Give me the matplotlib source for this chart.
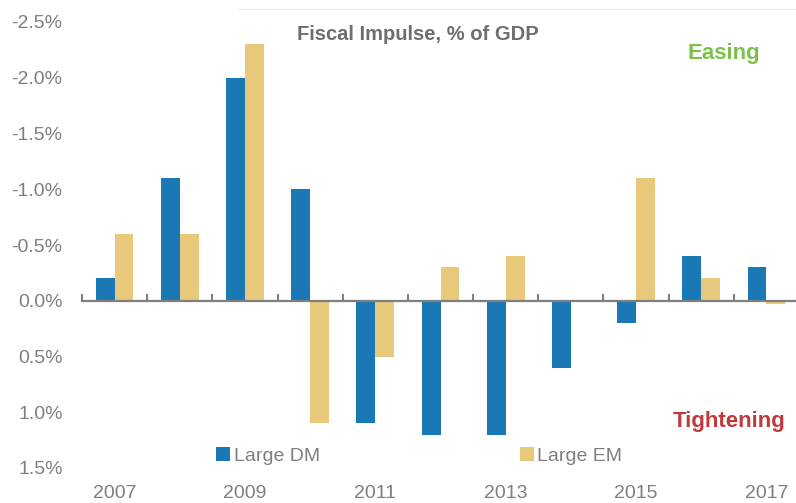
import matplotlib.pyplot as plt
import numpy as np
from matplotlib.lines import Line2D

plt.rcParams['font.family'] = ['Liberation Sans', 'DejaVu Sans']

years = [2007, 2008, 2009, 2010, 2011, 2012, 2013, 2014, 2015, 2016, 2017]
# negative = easing (drawn upward, axis is inverted)
large_dm = [-0.2, -1.1, -2.0, -1.0, 1.1, 1.2, 1.2, 0.6, 0.2, -0.4, -0.3]
large_em = [-0.6, -0.6, -2.3, 1.1, 0.5, -0.3, -0.4, 0.0, -1.1, -0.2, 0.03]
label_years = [2007, 2009, 2011, 2013, 2015, 2017]
yticks = [-2.5, -2.0, -1.5, -1.0, -0.5, 0.0, 0.5, 1.0, 1.5]
ytick_labels = ['-2.5%', '-2.0%', '-1.5%', '-1.0%', '-0.5%', '0.0%', '0.5%', '1.0%', '1.5%']

blue = '#1a79b5'
tan = '#e8c87b'
gray = '#7f7f7f'

fig = plt.figure(figsize=(7.96, 5.03), dpi=100)
W, H = 796, 503
ax = fig.add_axes([82 / W, (H - 468) / H, 717 / W, 446 / H])

x = np.arange(len(years))
w = 0.29
ax.bar(x - w / 2, large_dm, w, color=blue, label='Large DM')
ax.bar(x + w / 2, large_em, w, color=tan, label='Large EM')

ax.set_xlim(-0.5, len(years) - 0.5)
ax.set_ylim(1.5, -2.5)
ax.set_yticks(yticks)
ax.set_yticklabels(ytick_labels)
ax.tick_params(axis='y', length=0, pad=14, labelsize=14, labelcolor=gray)

for s in ['left', 'right', 'top']:
    ax.spines[s].set_visible(False)
ax.spines['bottom'].set_position(('data', 0))
ax.spines['bottom'].set_color(gray)
ax.spines['bottom'].set_linewidth(1.6)
ax.set_xticks([])
ax.set_xticks(x - 0.5, minor=True)
ax.tick_params(axis='x', which='minor', direction='in', length=5, width=1.5, color=gray)

# year labels sit below the plot area, ~26 px under the 1.5% line
for yr in label_years:
    ax.text(years.index(yr), 1.5 + 0.5 * 26 / 56, str(yr), ha='center', va='center',
            fontsize=14, color=gray, clip_on=False)

leg = fig.legend(loc='center left', bbox_to_anchor=(216 / W, (H - 456) / H),
                 ncol=2, frameon=False, fontsize=14, labelcolor=gray,
                 handlelength=0.7, handleheight=0.7, handletextpad=0.2,
                 columnspacing=10.3, borderpad=0, borderaxespad=0)

fig.text(418 / W, 1 - 35 / H, 'Fiscal Impulse, % of GDP', ha='center', va='center',
         fontsize=14.5, fontweight='bold', color='#6e6e6e')
fig.text(724 / W, 1 - 53 / H, 'Easing', ha='center', va='center',
         fontsize=16, fontweight='bold', color='#7cc04a')
fig.text(729 / W, 1 - 421 / H, 'Tightening', ha='center', va='center',
         fontsize=16, fontweight='bold', color='#c0393d')

fig.add_artist(Line2D([238 / W, 1.0], [1 - 9 / H, 1 - 9 / H], color='#eeeeee', lw=1))

fig.savefig('out.png', dpi=100)
